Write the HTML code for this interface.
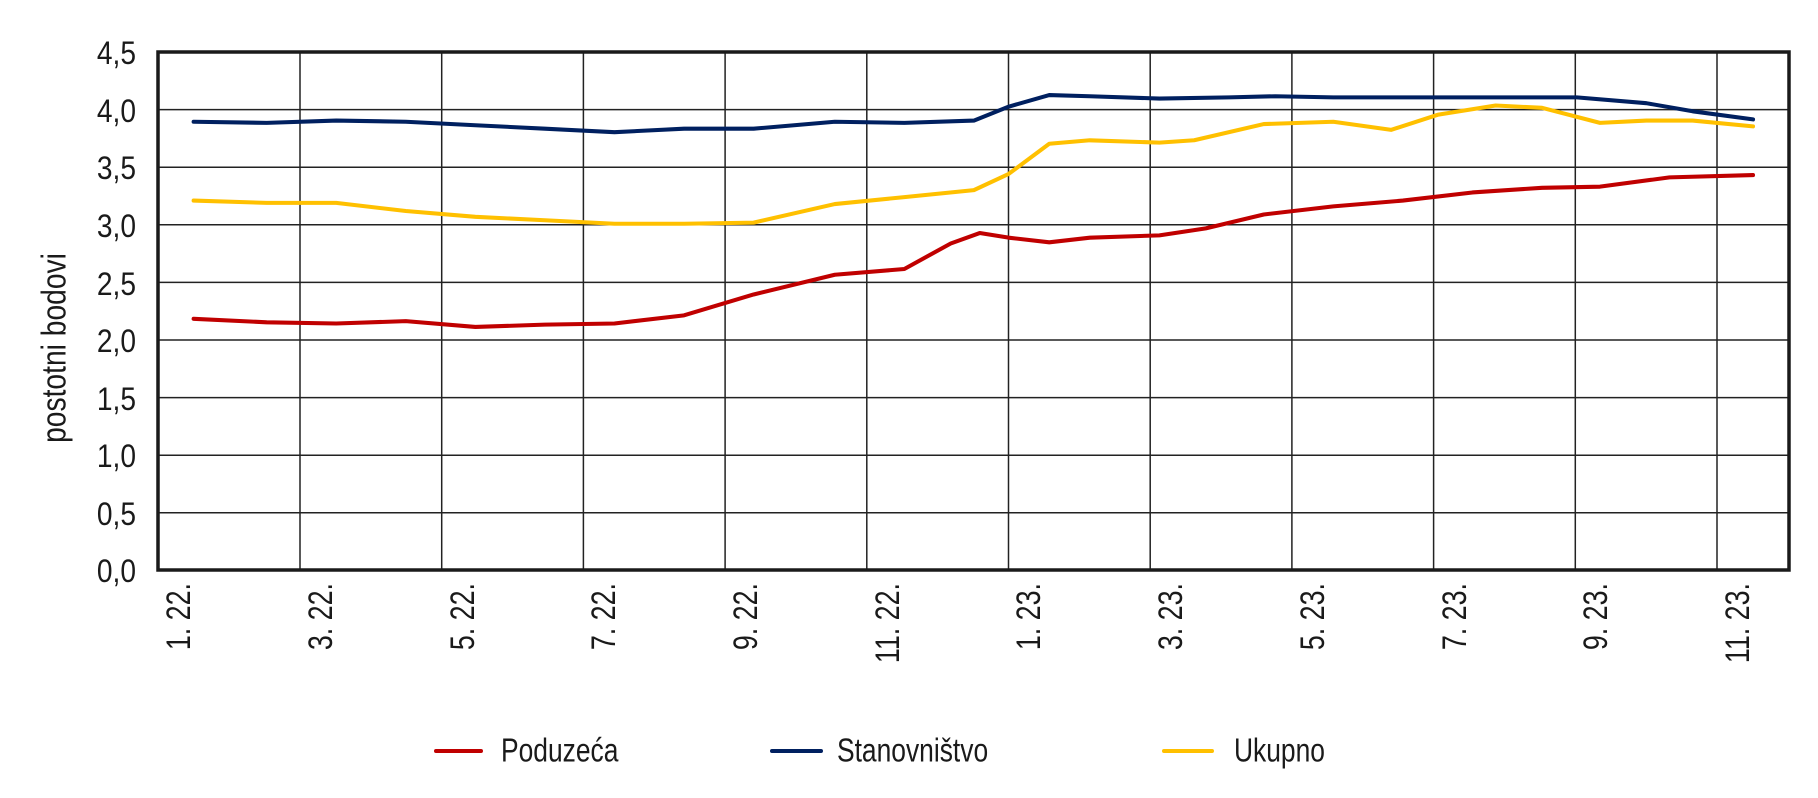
<!DOCTYPE html>
<html><head><meta charset="utf-8"><style>
html,body{margin:0;padding:0;background:#fff;}
svg{display:block;}
text{font-family:"Liberation Sans Narrow","Liberation Sans",sans-serif;fill:#1a1a1a;}
</style></head><body>
<svg width="1818" height="798" viewBox="0 0 1818 798" xmlns="http://www.w3.org/2000/svg">
<g stroke="#222" stroke-width="1.5">
<line x1="158" y1="109.6" x2="1789" y2="109.6"/>
<line x1="158" y1="167.2" x2="1789" y2="167.2"/>
<line x1="158" y1="224.8" x2="1789" y2="224.8"/>
<line x1="158" y1="282.4" x2="1789" y2="282.4"/>
<line x1="158" y1="340" x2="1789" y2="340"/>
<line x1="158" y1="397.6" x2="1789" y2="397.6"/>
<line x1="158" y1="455.2" x2="1789" y2="455.2"/>
<line x1="158" y1="512.8" x2="1789" y2="512.8"/>
<line x1="300" y1="52" x2="300" y2="570"/>
<line x1="441.7" y1="52" x2="441.7" y2="570"/>
<line x1="583.4" y1="52" x2="583.4" y2="570"/>
<line x1="725.1" y1="52" x2="725.1" y2="570"/>
<line x1="866.8" y1="52" x2="866.8" y2="570"/>
<line x1="1008.5" y1="52" x2="1008.5" y2="570"/>
<line x1="1150.2" y1="52" x2="1150.2" y2="570"/>
<line x1="1291.9" y1="52" x2="1291.9" y2="570"/>
<line x1="1433.6" y1="52" x2="1433.6" y2="570"/>
<line x1="1575.3" y1="52" x2="1575.3" y2="570"/>
<line x1="1717" y1="52" x2="1717" y2="570"/>
</g>
<g fill="none" stroke-width="3.5" stroke-linejoin="round" stroke-linecap="round" transform="scale(1.1594)">
<polyline stroke="#C00000" points="167,275 230,278 290,279 350,277 410,282 470,280 530,279 590,272 650,254 720,237 780,232 820,210 845,201 870,205 905,209 940,205 1000,203 1040,197 1090,185 1150,178 1210,173 1270,166 1330,162 1380,161 1440,153 1512,151"/>
<polyline stroke="#FFC000" points="167,173 230,175 290,175 350,182 410,187 470,190 530,193 590,193 650,192 720,176 780,170 840,164 870,150 905,124 940,121 1000,123 1030,121 1090,107 1150,105 1200,112 1240,99 1290,91 1330,93 1380,106 1420,104 1460,104 1512,109"/>
<polyline stroke="#002060" points="167,105 230,106 290,104 350,105 410,108 470,111 530,114 590,111 650,111 720,105 780,106 840,104 870,92 905,82 940,83 1000,85 1060,84 1100,83 1150,84 1240,84 1300,84 1360,84 1420,89 1460,96 1512,103"/>
</g>
<rect x="158" y="52" width="1631" height="518" fill="none" stroke="#1a1a1a" stroke-width="3.5"/>
<g font-size="32" text-anchor="end">
<text transform="translate(136,64) scale(0.88,1)">4,5</text>
<text transform="translate(136,122) scale(0.88,1)">4,0</text>
<text transform="translate(136,179) scale(0.88,1)">3,5</text>
<text transform="translate(136,237) scale(0.88,1)">3,0</text>
<text transform="translate(136,295) scale(0.88,1)">2,5</text>
<text transform="translate(136,352) scale(0.88,1)">2,0</text>
<text transform="translate(136,410) scale(0.88,1)">1,5</text>
<text transform="translate(136,467) scale(0.88,1)">1,0</text>
<text transform="translate(136,525) scale(0.88,1)">0,5</text>
<text transform="translate(136,582) scale(0.88,1)">0,0</text>
</g>
<text font-size="34" text-anchor="middle" dominant-baseline="central" transform="translate(54,348) rotate(-90) scale(0.83,1)">postotni bodovi</text>
<g font-size="34" text-anchor="end" dominant-baseline="central">
<text transform="translate(179,583) rotate(-90) scale(0.79,1)">1. 22.</text>
<text transform="translate(321,583) rotate(-90) scale(0.79,1)">3. 22.</text>
<text transform="translate(463,583) rotate(-90) scale(0.79,1)">5. 22.</text>
<text transform="translate(604,583) rotate(-90) scale(0.79,1)">7. 22.</text>
<text transform="translate(746,583) rotate(-90) scale(0.79,1)">9. 22.</text>
<text transform="translate(888,583) rotate(-90) scale(0.79,1)">11. 22.</text>
<text transform="translate(1029,583) rotate(-90) scale(0.79,1)">1. 23.</text>
<text transform="translate(1171,583) rotate(-90) scale(0.79,1)">3. 23.</text>
<text transform="translate(1313,583) rotate(-90) scale(0.79,1)">5. 23.</text>
<text transform="translate(1455,583) rotate(-90) scale(0.79,1)">7. 23.</text>
<text transform="translate(1596,583) rotate(-90) scale(0.79,1)">9. 23.</text>
<text transform="translate(1738,583) rotate(-90) scale(0.79,1)">11. 23.</text>
</g>
<g stroke-width="4" stroke-linecap="round">
<line x1="436" y1="751" x2="481" y2="751" stroke="#C00000"/>
<line x1="772" y1="751" x2="821" y2="751" stroke="#002060"/>
<line x1="1164" y1="751" x2="1212" y2="751" stroke="#FFC000"/>
</g>
<g font-size="33" dominant-baseline="central">
<text transform="translate(501,751) scale(0.8,1)">Poduzeća</text>
<text transform="translate(837,751) scale(0.8,1)">Stanovništvo</text>
<text transform="translate(1234,751) scale(0.8,1)">Ukupno</text>
</g>
</svg>
</body></html>
